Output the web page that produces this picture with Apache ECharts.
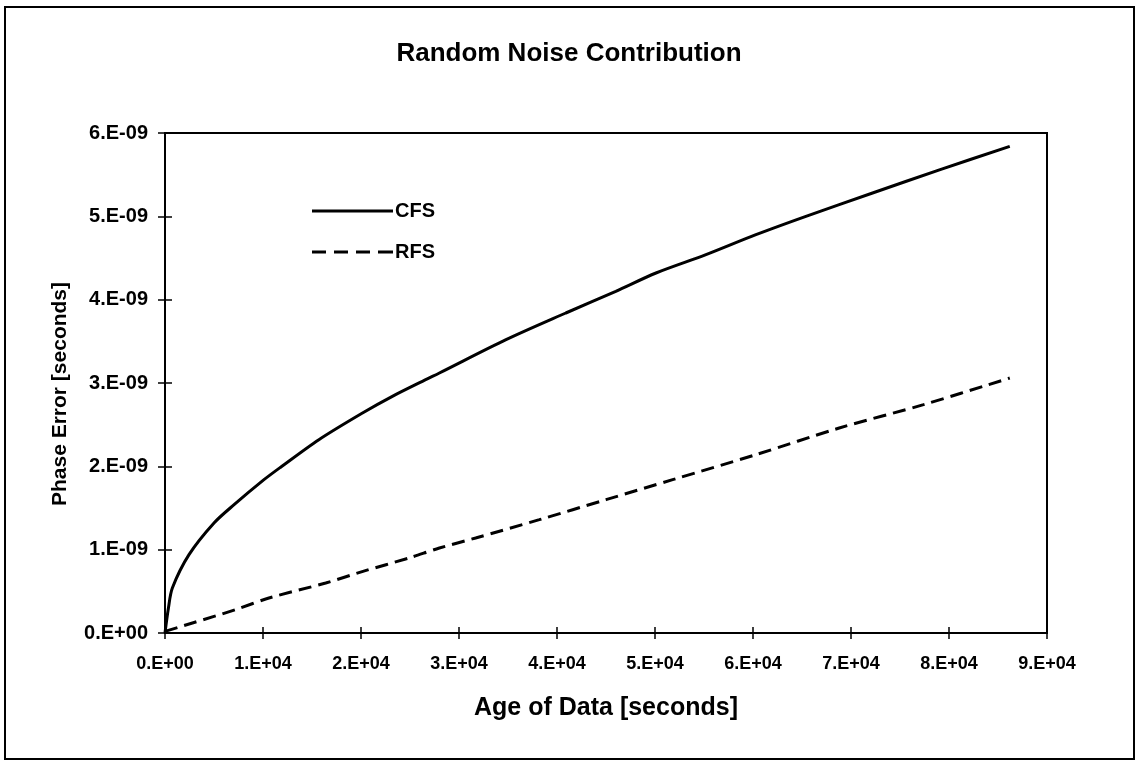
<!DOCTYPE html>
<html>
<head>
<meta charset="utf-8">
<script src="https://cdn.jsdelivr.net/npm/echarts@6/dist/echarts.min.js"></script>
<style>
html,body{margin:0;padding:0;background:#fff;}
#c{width:1138px;height:763px;}
</style>
</head>
<body>
<div id="c"></div>
<script>
var xTickLabels = ['0.E+00','1.E+04','2.E+04','3.E+04','4.E+04','5.E+04','6.E+04','7.E+04','8.E+04','9.E+04'];
var yTickLabels = ['0.E+00','1.E-09','2.E-09','3.E-09','4.E-09','5.E-09','6.E-09'];
var seriesNames = ['CFS', 'RFS'];

var cfsX = [0, 350, 750, 2450, 5000, 7050, 10100, 11800, 15700, 20150, 23200, 26600, 28000, 34800, 40900, 46000, 50100, 55200, 60300, 65400, 72200, 79100, 86200];
var cfsY = [0, 0.30e-9, 0.54e-9, 0.94e-9, 1.32e-9, 1.54e-9, 1.84e-9, 1.99e-9, 2.32e-9, 2.64e-9, 2.84e-9, 3.04e-9, 3.12e-9, 3.52e-9, 3.84e-9, 4.10e-9, 4.32e-9, 4.54e-9, 4.78e-9, 5.00e-9, 5.28e-9, 5.56e-9, 5.84e-9];

var rfsX = [0, 2800, 7200, 10600, 16400, 20200, 24900, 28000, 31700, 38200, 45000, 51800, 60300, 68800, 77400, 86200];
var rfsY = [0.02e-9, 0.12e-9, 0.28e-9, 0.42e-9, 0.60e-9, 0.74e-9, 0.90e-9, 1.02e-9, 1.14e-9, 1.36e-9, 1.60e-9, 1.84e-9, 2.14e-9, 2.46e-9, 2.74e-9, 3.06e-9];

function pairs(xs, ys){ return xs.map(function(x,i){ return [x, ys[i]]; }); }

var FONT = 'Liberation Sans, Arial, sans-serif';
var chart = echarts.init(document.getElementById('c'), null, {renderer:'canvas'});
var dashIcon = 'path://M0,0h14v3h-14z M22,0h14v3h-14z M44,0h14v3h-14z M66,0h15v3h-15z';
chart.setOption({
  animation: false,
  backgroundColor: '#fff',
  graphic: [
    {type:'rect', shape:{x:5, y:7, width:1129, height:752}, style:{fill:'none', stroke:'#000', lineWidth:2}, silent:true},
    {type:'text', x: 569, y: 54, style:{text:'Random Noise Contribution', font:'bold 26px Liberation Sans, Arial, sans-serif', fill:'#000', align:'center', verticalAlign:'middle'}},
    {type:'text', x: 606, y: 708, style:{text:'Age of Data [seconds]', font:'bold 25px Liberation Sans, Arial, sans-serif', fill:'#000', align:'center', verticalAlign:'middle'}},
    {type:'text', x: 60, y: 394, rotation: Math.PI/2, style:{text:'Phase Error [seconds]', font:'bold 21px Liberation Sans, Arial, sans-serif', fill:'#000', align:'center', verticalAlign:'middle'}}
  ],
  legend: {
    orient: 'vertical', left: 307, top: 196,
    itemWidth: 81, itemHeight: 3, itemGap: 21,
    textStyle: {fontFamily: FONT, fontWeight: 'bold', fontSize: 20, color: '#000', padding: [0,0,0,-3]},
    data: [{name: seriesNames[0], icon: 'rect'}, {name: seriesNames[1], icon: dashIcon}]
  },
  grid: {left: 165, right: 91, top: 133, bottom: 130, show: true, borderColor: '#000', borderWidth: 2, backgroundColor: 'transparent'},
  xAxis: [
    {type:'value', min:0, max:90000, interval:10000, position:'bottom',
     axisLine:{show:true, lineStyle:{color:'#000', width:2}},
     axisTick:{show:true, inside:false, length:6, lineStyle:{color:'#000', width:1.5}},
     axisLabel:{margin:22, fontFamily:FONT, fontWeight:'bold', fontSize:18, color:'#000',
       formatter:function(v,i){ return xTickLabels[i]; }},
     splitLine:{show:false}},
    {type:'value', min:0, max:90000, interval:10000, position:'bottom',
     axisLine:{show:false}, axisLabel:{show:false}, splitLine:{show:false},
     axisTick:{show:true, inside:true, length:6, lineStyle:{color:'#000', width:1.5}}}
  ],
  yAxis: [
    {type:'value', min:0, max:6e-9, interval:1e-9, position:'left',
     axisLine:{show:true, lineStyle:{color:'#000', width:2}},
     axisTick:{show:true, inside:false, length:7, lineStyle:{color:'#000', width:1.5}},
     axisLabel:{margin:17, fontFamily:FONT, fontWeight:'bold', fontSize:20, color:'#000',
       formatter:function(v,i){ return yTickLabels[i]; }},
     splitLine:{show:false}},
    {type:'value', min:0, max:6e-9, interval:1e-9, position:'left',
     axisLine:{show:false}, axisLabel:{show:false}, splitLine:{show:false},
     axisTick:{show:true, inside:true, length:7, lineStyle:{color:'#000', width:1.5}}}
  ],
  series: [
    {name:seriesNames[0], type:'line', xAxisIndex:0, yAxisIndex:0, showSymbol:false, symbol:'none', smooth:0.3,
     lineStyle:{color:'#000', width:3, type:'solid'}, itemStyle:{color:'#000'},
     data: pairs(cfsX, cfsY)},
    {name:seriesNames[1], type:'line', xAxisIndex:0, yAxisIndex:0, showSymbol:false, symbol:'none', smooth:0.3,
     lineStyle:{color:'#000', width:3, type:[13,7]}, itemStyle:{color:'#000'},
     data: pairs(rfsX, rfsY)}
  ]
});
</script>
</body>
</html>
